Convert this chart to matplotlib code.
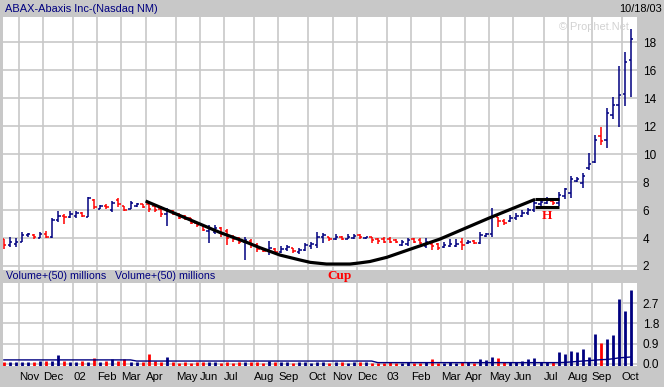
import matplotlib
matplotlib.use("Agg")
import matplotlib.pyplot as plt

plt.rcParams['font.family'] = ['Liberation Sans', 'DejaVu Sans']

# weekly bars, Oct 2001 - Oct 2003 (index = week number)
highs = [3.93, 4.05, 3.98, 4.40, 4.33, 4.26, 4.40, 4.50, 5.40, 5.93,
         5.69, 5.93, 5.93, 5.88, 6.90, 6.78, 6.36, 6.40, 6.64, 6.83,
         6.31, 6.64, 6.48, 6.40, 6.64, 6.36, 6.30, 6.15, 6.00, 5.76,
         5.64, 5.45, 5.17, 5.00, 4.90, 4.90, 4.76, 4.62, 4.21, 4.05,
         4.10, 3.90, 3.62, 3.31, 3.79, 3.26, 3.43, 3.50, 3.31, 3.26,
         3.67, 3.74, 4.42, 4.33, 4.10, 4.26, 4.14, 4.26, 4.26, 4.26,
         4.10, 4.10, 4.02, 4.05, 4.10, 3.93, 3.86, 4.02, 3.98, 3.98,
         3.98, 3.74, 3.62, 3.74, 3.90, 3.93, 3.98, 3.86, 3.86, 4.40,
         4.33, 6.17, 5.52, 5.33, 5.64, 5.76, 6.00, 6.17, 6.71, 6.71,
         6.90, 6.71, 7.29, 7.60, 8.43, 8.36, 8.67, 10.10, 11.36, 11.95,
         13.30, 14.10, 16.30, 17.30, 18.90]
lows = [3.19, 3.38, 3.38, 3.74, 4.10, 3.93, 3.98, 4.02, 4.02, 5.12,
        4.98, 5.40, 5.40, 5.52, 5.48, 6.05, 6.05, 6.05, 5.88, 6.19,
        5.93, 6.05, 6.19, 6.12, 5.88, 5.88, 5.47, 4.87, 5.64, 5.33,
        5.29, 4.98, 4.81, 4.50, 3.67, 4.28, 4.10, 3.47, 3.74, 3.55,
        2.40, 3.26, 3.00, 3.00, 2.80, 2.90, 2.90, 3.07, 2.95, 2.83,
        3.07, 3.21, 3.30, 3.67, 3.81, 3.86, 3.86, 3.90, 3.93, 3.93,
        3.93, 3.62, 3.60, 3.62, 3.67, 3.62, 3.43, 3.43, 3.62, 3.60,
        3.26, 3.14, 3.14, 3.26, 3.33, 3.38, 3.14, 3.60, 3.60, 3.55,
        4.10, 4.05, 4.81, 4.93, 5.17, 5.29, 5.52, 5.64, 5.83, 6.24,
        6.43, 6.36, 6.29, 6.76, 6.88, 8.00, 7.55, 8.86, 9.33, 10.64,
        10.40, 12.50, 11.95, 13.40, 14.10]
opens = [3.90, 3.50, 3.60, 3.75, 4.20, 4.20, 4.00, 4.30, 4.05, 5.30,
         5.60, 5.50, 5.55, 5.80, 5.50, 6.70, 6.10, 6.30, 6.00, 6.70,
         6.30, 6.10, 6.30, 6.40, 6.40, 6.30, 6.10, 5.70, 5.95, 5.70,
         5.60, 5.40, 5.10, 4.90, 4.50, 4.40, 4.70, 4.50, 4.10, 4.00,
         3.70, 3.80, 3.50, 3.30, 3.10, 3.25, 3.00, 3.20, 3.30, 3.00,
         3.15, 3.40, 3.50, 4.10, 4.05, 3.95, 4.10, 3.95, 4.00, 4.20,
         4.00, 4.05, 3.95, 3.90, 3.95, 3.85, 3.50, 3.60, 3.90, 3.85,
         3.40, 3.60, 3.55, 3.35, 3.40, 3.45, 3.70, 3.65, 3.80, 3.65,
         4.15, 4.30, 5.50, 5.25, 5.20, 5.40, 5.60, 5.80, 6.00, 6.40,
         6.50, 6.65, 6.50, 7.00, 7.20, 8.10, 7.90, 9.00, 9.40, 11.30,
         11.00, 12.80, 13.50, 14.30, 16.70]
closes = [3.50, 3.70, 3.75, 4.25, 4.30, 4.05, 4.30, 4.10, 5.30, 5.60,
          5.50, 5.75, 5.80, 5.60, 6.85, 6.20, 6.30, 6.20, 6.50, 6.40,
          6.00, 6.50, 6.40, 6.25, 6.10, 6.00, 5.70, 6.00, 5.75, 5.40,
          5.35, 5.10, 4.90, 4.60, 4.70, 4.75, 4.30, 4.00, 3.90, 3.75,
          3.85, 3.50, 3.20, 3.10, 3.30, 3.00, 3.20, 3.35, 3.10, 3.15,
          3.50, 3.60, 4.10, 4.20, 3.95, 4.05, 3.95, 4.10, 4.15, 4.05,
          4.07, 3.85, 3.80, 3.75, 3.70, 3.68, 3.75, 3.85, 3.70, 3.65,
          3.70, 3.40, 3.30, 3.50, 3.55, 3.60, 3.50, 3.75, 3.65, 4.20,
          4.30, 5.60, 5.20, 5.10, 5.45, 5.60, 5.80, 6.00, 6.50, 6.55,
          6.70, 6.50, 7.10, 7.50, 8.20, 8.25, 8.40, 9.30, 11.00, 10.90,
          12.90, 13.50, 14.20, 16.60, 18.20]
# b = up week (navy), r = down week (red)
week_dir = ("rbbbbrbrbb" "rbbrbrbrbr" "rbbrrrrbrr" "rrrrbbrrrr" "brrrbrbbrb"
            "bbbbrbrbbr" "brrrrrbbrr" "brrbbbrbrb" "bbrrbbbbbb" "brbbbbbbbr"
            "bbbbb")

# volume in millions and its 50-day average
volume = [0.08, 0.08, 0.08, 0.08, 0.08, 0.10, 0.12, 0.12, 0.12, 0.40,
          0.12, 0.10, 0.08, 0.12, 0.10, 0.25, 0.10, 0.12, 0.20, 0.12,
          0.20, 0.10, 0.08, 0.10, 0.44, 0.12, 0.10, 0.30, 0.08, 0.06,
          0.08, 0.06, 0.08, 0.08, 0.10, 0.08, 0.06, 0.10, 0.06, 0.08,
          0.10, 0.10, 0.08, 0.06, 0.12, 0.08, 0.08, 0.08, 0.06, 0.08,
          0.08, 0.06, 0.10, 0.08, 0.06, 0.08, 0.08, 0.06, 0.08, 0.08,
          0.10, 0.06, 0.06, 0.06, 0.08, 0.05, 0.06, 0.08, 0.06, 0.06,
          0.08, 0.20, 0.06, 0.05, 0.08, 0.06, 0.08, 0.08, 0.06, 0.22,
          0.18, 0.31, 0.27, 0.08, 0.08, 0.10, 0.15, 0.22, 0.27, 0.10,
          0.10, 0.08, 0.55, 0.44, 0.59, 0.53, 0.65, 0.31, 1.33, 0.94,
          1.11, 1.28, 2.87, 2.35, 3.28]
volume_avg = [0.18, 0.18, 0.18, 0.18, 0.18, 0.18, 0.18, 0.18, 0.18, 0.18,
              0.18, 0.18, 0.18, 0.18, 0.18, 0.18, 0.18, 0.18, 0.18, 0.18,
              0.18, 0.18, 0.13, 0.13, 0.13, 0.13, 0.13, 0.13, 0.13, 0.13,
              0.13, 0.13, 0.13, 0.13, 0.13, 0.13, 0.13, 0.13, 0.13, 0.13,
              0.13, 0.13, 0.13, 0.13, 0.13, 0.13, 0.13, 0.13, 0.13, 0.13,
              0.13, 0.13, 0.13, 0.13, 0.13, 0.13, 0.13, 0.13, 0.13, 0.13,
              0.13, 0.13, 0.06, 0.06, 0.06, 0.06, 0.06, 0.06, 0.06, 0.06,
              0.06, 0.06, 0.06, 0.06, 0.06, 0.06, 0.06, 0.06, 0.06, 0.06,
              0.06, 0.06, 0.06, 0.06, 0.06, 0.06, 0.06, 0.06, 0.06, 0.06,
              0.06, 0.06, 0.06, 0.07, 0.09, 0.11, 0.13, 0.15, 0.17, 0.19,
              0.20, 0.23, 0.27, 0.29, 0.31]

month_pos = [2.5, 6.5, 11.5, 15.5, 19.5, 23.5, 28.5, 32.5, 36.5, 41.5, 45.5, 50.5,
             54.5, 58.5, 63.5, 67.5, 72.5, 76.5, 80.5, 84.5, 89.5, 93.5, 97.5, 102.5]
month_labels = ["Nov", "Dec", "02", "Feb", "Mar", "Apr", "May", "Jun", "Jul", "Aug", "Sep", "Oct",
                "Nov", "Dec", "03", "Feb", "Mar", "Apr", "May", "Jun", "Jul", "Aug", "Sep", "Oct"]
price_ticks = [2, 4, 6, 8, 10, 12, 14, 16, 18]
volume_ticks = [0.0, 0.9, 1.8, 2.7]

# cup-with-handle drawing
cup_x = [23.5, 35.8, 40.1, 42.5, 44.1, 45.8, 49.1, 50.8, 53.5, 57.4, 59.0, 60.7,
         63.5, 67.8, 72.3, 80.6, 88.1]
cup_y = [6.64, 4.40, 3.72, 3.30, 3.05, 2.78, 2.43, 2.26, 2.14, 2.14, 2.22, 2.32,
         2.62, 3.26, 3.92, 5.45, 6.76]
handle_x = [88.1, 92.1]
handle_top = 6.78
handle_low = 6.24

BG = '#c8c8c8'
NAVY = '#000080'
RED = '#ff0000'
GRID = '#c8c8c8'

W, H = 664, 387
fig = plt.figure(figsize=(W / 100, H / 100), dpi=100, facecolor=BG)
ax = fig.add_axes([3 / W, 1 - 270 / H, 634 / W, 253 / H])
axv = fig.add_axes([3 / W, 1 - 366 / H, 634 / W, 83 / H])

xlim = (-0.15, 105.0)
vol_bottom = -0.09

for a in (ax, axv):
    a.set_facecolor('white')
    a.set_xlim(*xlim)
    for s in a.spines.values():
        s.set_visible(False)
    a.set_xticks(month_pos)
    a.grid(True, color=GRID, linewidth=1.2)
    a.set_axisbelow(True)
    a.yaxis.tick_right()
    a.tick_params(axis='y', length=0, pad=4, labelsize=8.5)

# price bars
for i in range(len(highs)):
    c = NAVY if week_dir[i] == 'b' else RED
    ax.vlines(i, lows[i], highs[i], color=c, linewidth=1.1)
    ax.hlines(opens[i], i - 0.4, i, color=c, linewidth=1.1)
    ax.hlines(closes[i], i, i + 0.4, color=c, linewidth=1.1)

ax.plot(cup_x, cup_y, color='black', linewidth=2.3, solid_capstyle='butt')
ax.hlines([handle_top, handle_low], handle_x[0], handle_x[1], color='black', linewidth=2.2)
ax.text(90.1, 6.0, "H", color=RED, fontsize=9.5, fontweight='bold',
        family='Liberation Serif', ha='center', va='top')

ax.set_ylim(1.714, 19.79)
ax.set_yticks(price_ticks)
ax.set_yticklabels([str(t) for t in price_ticks])
ax.tick_params(axis='x', length=0, labelbottom=False)

# volume
for i in range(len(volume)):
    c = NAVY if week_dir[i] == 'b' else RED
    axv.vlines(i, vol_bottom, volume[i], color=c, linewidth=2.0)
axv.plot(range(len(volume_avg)), volume_avg, color=NAVY, linewidth=1.0)
axv.set_ylim(vol_bottom, 3.59)
axv.set_yticks(volume_ticks)
axv.set_yticklabels([f"{t:.1f}" for t in volume_ticks])
axv.set_xticklabels(month_labels, ha='left', fontsize=8.2)
axv.tick_params(axis='x', length=0, pad=4)

# header / labels
fig.text(5 / W, 1 - 8.5 / H, "ABAX-Abaxis Inc-(Nasdaq NM)", color=NAVY, fontsize=7.9, va='center')
fig.text(662 / W, 1 - 8.5 / H, "10/18/03", color='black', fontsize=7.9, va='center', ha='right')
fig.text(629 / W, 1 - 27 / H, "\u00a9 Prophet.Net", color='#d2d2d2', fontsize=7.9, va='center', ha='right')
fig.text(6 / W, 1 - 276 / H, "Volume+(50) millions", color=NAVY, fontsize=7.7, va='center')
fig.text(115 / W, 1 - 276 / H, "Volume+(50) millions", color=NAVY, fontsize=7.7, va='center')
fig.text(340 / W, 1 - 276 / H, "Cup", color=RED, fontsize=9.5, fontweight='bold',
         family='Liberation Serif', va='center', ha='center')

fig.savefig("out.png", dpi=100, facecolor=BG)
